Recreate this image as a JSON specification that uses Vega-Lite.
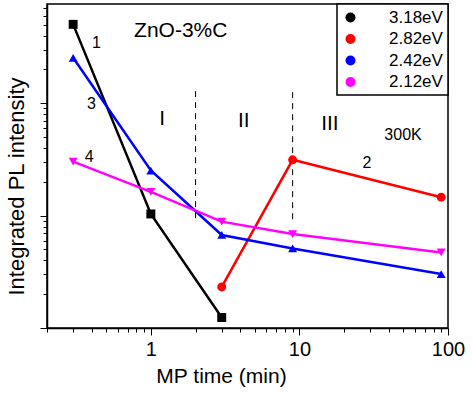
{
  "$schema": "https://vega.github.io/schema/vega-lite/v6.json",
  "width": 401,
  "height": 324,
  "autosize": {"type": "none"},
  "padding": {"left": 47, "top": 4, "right": 25, "bottom": 66},
  "config": {
    "font": "Liberation Sans",
    "view": {"stroke": "black", "strokeWidth": 1.5},
    "axis": {"grid": false, "domainColor": "black", "domainWidth": 1.5, "tickColor": "black", "tickWidth": 1, "labelColor": "black", "titleColor": "black", "labelFont": "Liberation Sans", "titleFont": "Liberation Sans", "titleFontWeight": "normal"},
    "legend": {"labelFont": "Liberation Sans", "strokeColor": "black", "strokeWidth": 1.5, "fillColor": "white"}
  },
  "datasets": {
    "pts": [
      {"t": 0.3, "v": 50.4, "s": "3.18eV"},
      {"t": 1, "v": 1.035, "s": "3.18eV"},
      {"t": 3, "v": 0.124, "s": "3.18eV"},
      {"t": 3, "v": 0.232, "s": "2.82eV"},
      {"t": 9, "v": 3.14, "s": "2.82eV"},
      {"t": 90, "v": 1.46, "s": "2.82eV"},
      {"t": 0.3, "v": 25.4, "s": "2.42eV"},
      {"t": 1, "v": 2.52, "s": "2.42eV"},
      {"t": 3, "v": 0.673, "s": "2.42eV"},
      {"t": 9, "v": 0.511, "s": "2.42eV"},
      {"t": 90, "v": 0.302, "s": "2.42eV"},
      {"t": 0.3, "v": 3.03, "s": "2.12eV"},
      {"t": 1, "v": 1.63, "s": "2.12eV"},
      {"t": 3, "v": 0.884, "s": "2.12eV"},
      {"t": 9, "v": 0.686, "s": "2.12eV"},
      {"t": 90, "v": 0.47, "s": "2.12eV"}
    ],
    "dividers": [
      {"t": 2, "v1": 0.95, "v2": 13.6},
      {"t": 9, "v1": 0.93, "v2": 13.6}
    ],
    "notes": [
      {"t": 1.59, "v": 39.1, "label": "ZnO-3%C", "fs": 21},
      {"t": 0.4307, "v": 30.8, "label": "1", "fs": 16},
      {"t": 0.399, "v": 8.84, "label": "3", "fs": 16},
      {"t": 0.384, "v": 2.99, "label": "4", "fs": 16},
      {"t": 1.19, "v": 6.36, "label": "I", "fs": 21},
      {"t": 4.22, "v": 6.14, "label": "II", "fs": 21},
      {"t": 16.05, "v": 5.74, "label": "III", "fs": 21},
      {"t": 49.8, "v": 4.74, "label": "300K", "fs": 16},
      {"t": 28.5, "v": 2.67, "label": "2", "fs": 16}
    ]
  },
  "layer": [
    {
      "data": {"name": "dividers"},
      "mark": {"type": "rule", "color": "black", "strokeWidth": 1, "strokeDash": [6, 5]},
      "encoding": {
        "x": {"field": "t", "type": "quantitative", "scale": {"type": "log", "domain": [0.2, 100], "nice": false}},
        "y": {"field": "v1", "type": "quantitative", "scale": {"type": "log", "domain": [0.1, 76.5], "nice": false}},
        "y2": {"field": "v2"}
      }
    },
    {
      "data": {"name": "pts"},
      "transform": [{"filter": "datum.s == '3.18eV'"}],
      "mark": {"type": "line", "strokeWidth": 2.5, "color": "#000000"},
      "encoding": {"x": {"field": "t", "type": "quantitative"}, "y": {"field": "v", "type": "quantitative"}}
    },
    {
      "data": {"name": "pts"},
      "transform": [{"filter": "datum.s == '2.82eV'"}],
      "mark": {"type": "line", "strokeWidth": 2.5, "color": "#ff0000"},
      "encoding": {"x": {"field": "t", "type": "quantitative"}, "y": {"field": "v", "type": "quantitative"}}
    },
    {
      "data": {"name": "pts"},
      "transform": [{"filter": "datum.s == '2.42eV'"}],
      "mark": {"type": "line", "strokeWidth": 2.5, "color": "#0000ff"},
      "encoding": {"x": {"field": "t", "type": "quantitative"}, "y": {"field": "v", "type": "quantitative"}}
    },
    {
      "data": {"name": "pts"},
      "transform": [{"filter": "datum.s == '2.12eV'"}],
      "mark": {"type": "line", "strokeWidth": 2.5, "color": "#ff00ff"},
      "encoding": {"x": {"field": "t", "type": "quantitative"}, "y": {"field": "v", "type": "quantitative"}}
    },
    {
      "data": {"name": "pts"},
      "mark": {"type": "point", "filled": true, "opacity": 1, "size": 80},
      "encoding": {
        "x": {"field": "t", "type": "quantitative",
          "axis": {
            "title": "MP time (min)", "titleFontSize": 21, "titleX": 174, "titleAnchor": null, "titleAlign": "center", "titlePadding": 6,
            "values": [0.2,0.3,0.4,0.5,0.6,0.7,0.8,0.9,1,2,3,4,5,6,7,8,9,10,20,30,40,50,60,70,80,90,100],
            "labelExpr": "(datum.value==1||datum.value==10||datum.value==100) ? format(datum.value,'d') : ''",
            "labelFontSize": 20, "labelPadding": 4, "labelOverlap": false, "labelFlush": false,
            "tickSize": {"condition": {"test": "datum.value==1||datum.value==10||datum.value==100", "value": 7}, "value": 4}
          }
        },
        "y": {"field": "v", "type": "quantitative",
          "axis": {
            "title": "Integrated PL intensity", "titleFontSize": 22, "titleY": 182, "titlePadding": 11,
            "values": [0.1,0.2,0.3,0.4,0.5,0.6,0.7,0.8,0.9,1,2,3,4,5,6,7,8,9,10,20,30,40,50,60,70],
            "labels": false,
            "tickSize": {"condition": {"test": "datum.value==0.1||datum.value==1||datum.value==10", "value": 7}, "value": 4}
          }
        },
        "color": {"field": "s", "type": "nominal", "scale": {"domain": ["3.18eV", "2.82eV", "2.42eV", "2.12eV"], "range": ["#000000", "#ff0000", "#0000ff", "#ff00ff"]},
          "legend": {
            "title": null, "orient": "top-right", "offset": 0, "padding": 5,
            "labelFontSize": 17, "labelColor": "black", "symbolSize": 100, "labelOffset": 30, "rowPadding": 3.5,
            "encode": {"symbols": {
              "shape": {"value": {"expr": "datum.value=='3.18eV' ? 'M-0.8,0H7.2M2.7,-0.5H3.7V0.5H2.7Z' : datum.value=='2.82eV' ? 'M-0.8,0H7.2M2.6,0A0.6,0.6 0 1,0 3.8,0A0.6,0.6 0 1,0 2.6,0Z' : datum.value=='2.42eV' ? 'M-0.8,0H7.2M3.2,-0.7L3.85,0.5L2.55,0.5Z' : 'M-0.8,0H7.2M3.2,0.7L3.85,-0.5L2.55,-0.5Z'"}},
              "size": {"value": 100},
              "stroke": {"value": {"expr": "scale('color', datum.value)"}},
              "strokeWidth": {"value": 2},
              "opacity": {"value": 1}
            }}
          }
        },
        "shape": {"field": "s", "type": "nominal", "scale": {"domain": ["2.12eV", "2.42eV", "2.82eV", "3.18eV"], "range": ["triangle-down", "triangle-up", "circle", "square"]}, "legend": null}
      }
    },
    {
      "data": {"name": "notes"},
      "mark": {"type": "text", "align": "center", "baseline": "alphabetic", "color": "black", "font": "Liberation Sans"},
      "encoding": {
        "x": {"field": "t", "type": "quantitative"},
        "y": {"field": "v", "type": "quantitative"},
        "text": {"field": "label"},
        "size": {"field": "fs", "type": "quantitative", "scale": null}
      }
    }
  ]
}
